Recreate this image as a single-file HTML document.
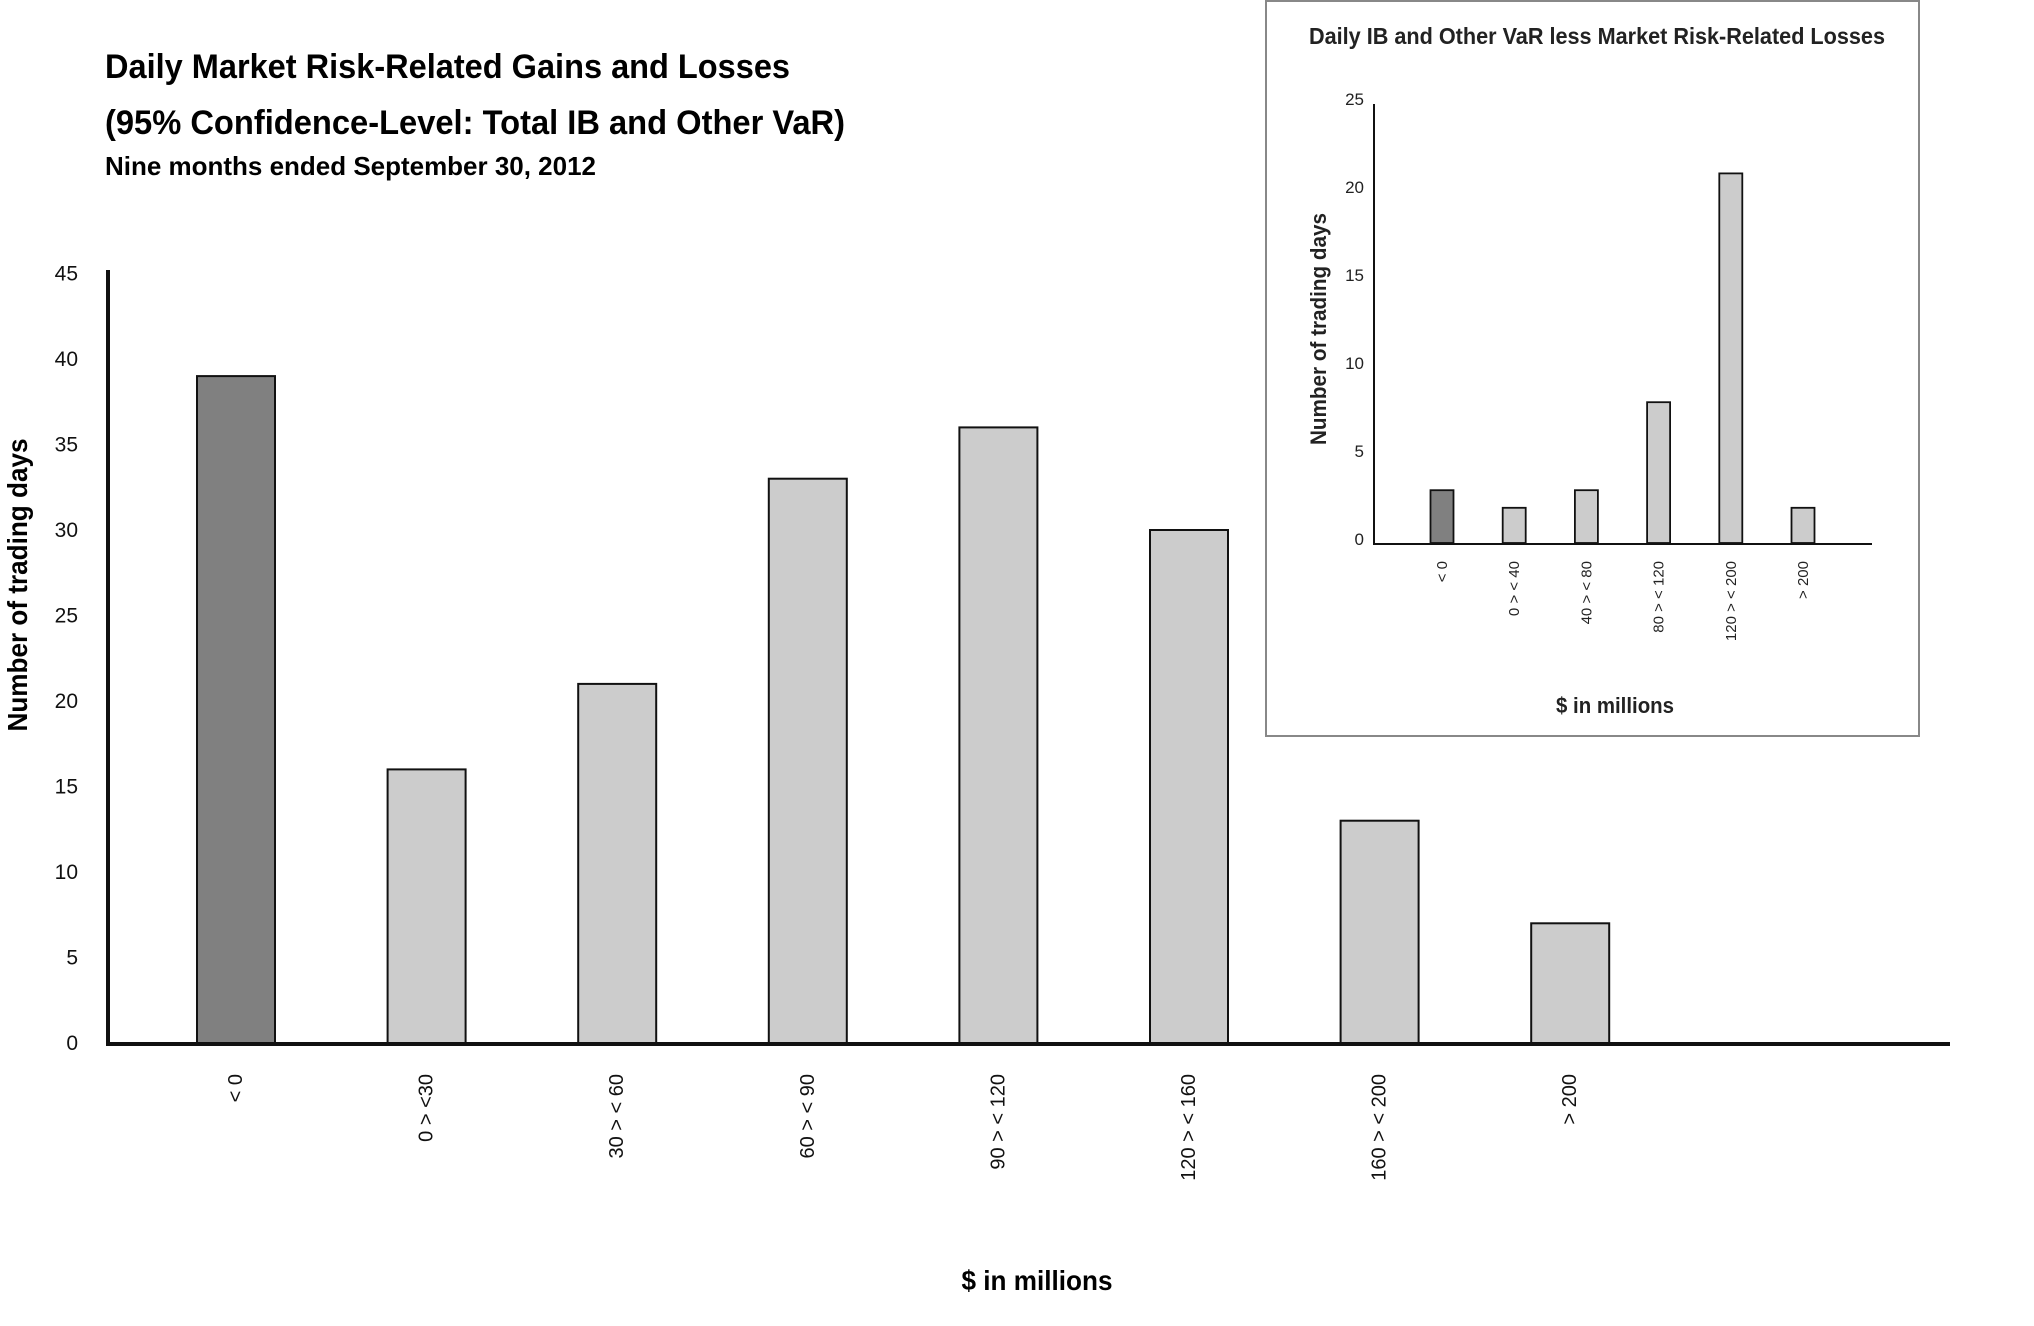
<!DOCTYPE html>
<html>
<head>
<meta charset="utf-8">
<style>
  html,body{margin:0;padding:0;background:#fff;}
  svg{display:block;font-family:"Liberation Sans",sans-serif;}
</style>
</head>
<body>
<svg id="chart" width="2034" height="1326" viewBox="0 0 2034 1326">
  <rect x="0" y="0" width="2034" height="1326" fill="#fff"/>
  <text x="105" y="78" font-size="34" font-weight="bold" textLength="685" lengthAdjust="spacingAndGlyphs">Daily Market Risk-Related Gains and Losses</text>
  <text x="105" y="134" font-size="34" font-weight="bold" textLength="740" lengthAdjust="spacingAndGlyphs">(95% Confidence-Level: Total IB and Other VaR)</text>
  <text x="105" y="175" font-size="26" font-weight="bold" textLength="491" lengthAdjust="spacingAndGlyphs">Nine months ended September 30, 2012</text>
  <g id="main"></g>
  <text x="1037" y="1290" font-size="28" font-weight="bold" text-anchor="middle" textLength="151" lengthAdjust="spacingAndGlyphs">$ in millions</text>
  <text transform="translate(27,585) rotate(-90)" font-size="28" font-weight="bold" text-anchor="middle" textLength="293" lengthAdjust="spacingAndGlyphs">Number of trading days</text>

  <rect x="1266" y="1" width="653" height="735" fill="#fff" stroke="#888" stroke-width="2"/>
  <text x="1309" y="44" font-size="23" font-weight="bold" fill="#222" textLength="576" lengthAdjust="spacingAndGlyphs">Daily IB and Other VaR less Market Risk-Related Losses</text>
  <g id="inset"></g>
  <text x="1615" y="713" font-size="22" font-weight="bold" fill="#222" text-anchor="middle" textLength="118" lengthAdjust="spacingAndGlyphs">$ in millions</text>
  <text transform="translate(1326,329) rotate(-90)" font-size="22" font-weight="bold" fill="#222" text-anchor="middle" textLength="232" lengthAdjust="spacingAndGlyphs">Number of trading days</text>
</svg>
<script>
const mainCategories = ["< 0", "0 > <30", "30 > < 60", "60 > < 90", "90 > < 120", "120 > < 160", "160 > < 200", "> 200"];
const mainValues = [39, 16, 21, 33, 36, 30, 13, 7];
const mainTicks = [0, 5, 10, 15, 20, 25, 30, 35, 40, 45];

const insetCategories = ["< 0", "0 > < 40", "40 > < 80", "80 > < 120", "120 > < 200", "> 200"];
const insetValues = [3, 2, 3, 8, 21, 2];
const insetTicks = [0, 5, 10, 15, 20, 25];

const NS = "http://www.w3.org/2000/svg";
function mk(tag, attrs, parent) {
  const e = document.createElementNS(NS, tag);
  for (const k in attrs) e.setAttribute(k, attrs[k]);
  parent.appendChild(e);
  return e;
}

// Main chart axes
const mY0 = 1043, mUnit = 17.1;
const mainY = v => mY0 - v * mUnit;
const mainX = i => 236 + i * 190.6;
const main = document.getElementById("main");

mainTicks.forEach(t => {
  const tx = mk("text", {x: 78, y: mainY(t) + 7, "font-size": 21, "text-anchor": "end", fill: "#111"}, main);
  tx.textContent = t;
  
  
});
mainValues.forEach((v, i) => {
  const r = mk("rect", {x: mainX(i) - 39, y: mainY(v), width: 78, height: mY0 - mainY(v), fill: i === 0 ? "#808080" : "#cccccc", stroke: "#111", "stroke-width": 2}, main);
  
  
  const lb = mk("text", {transform: "translate(" + (mainX(i) + 6) + ",1074) rotate(-90)", "font-size": 20, "text-anchor": "end", fill: "#111"}, main);
  lb.textContent = mainCategories[i];
  
  
});
const mya = mk("line", {x1: 108, y1: 270, x2: 108, y2: mY0 + 2, stroke: "#111", "stroke-width": 4}, main);


const mxa = mk("line", {x1: 106, y1: mY0 + 1, x2: 1950, y2: mY0 + 1, stroke: "#111", "stroke-width": 4}, main);



// Inset chart axes
const iY0 = 543, iUnit = 17.6;
const insetY = v => iY0 - v * iUnit;
const insetX = i => 1442 + i * 72.2;
const inset = document.getElementById("inset");

insetTicks.forEach(t => {
  const tx = mk("text", {x: 1364, y: insetY(t) + 2, "font-size": 17, "text-anchor": "end", fill: "#222"}, inset);
  tx.textContent = t;
  
  
});
insetValues.forEach((v, i) => {
  const r = mk("rect", {x: insetX(i) - 11.5, y: insetY(v), width: 23, height: iY0 - insetY(v), fill: i === 0 ? "#808080" : "#cccccc", stroke: "#111", "stroke-width": 1.8}, inset);
  
  
  const lb = mk("text", {transform: "translate(" + (insetX(i) + 5) + ",561) rotate(-90)", "font-size": 15, "text-anchor": "end", fill: "#222"}, inset);
  lb.textContent = insetCategories[i];
  
  
});
const iya = mk("line", {x1: 1374, y1: 104, x2: 1374, y2: iY0 + 2, stroke: "#111", "stroke-width": 2}, inset);


const ixa = mk("line", {x1: 1373, y1: iY0 + 1, x2: 1872, y2: iY0 + 1, stroke: "#111", "stroke-width": 2}, inset);


</script>
</body>
</html>
